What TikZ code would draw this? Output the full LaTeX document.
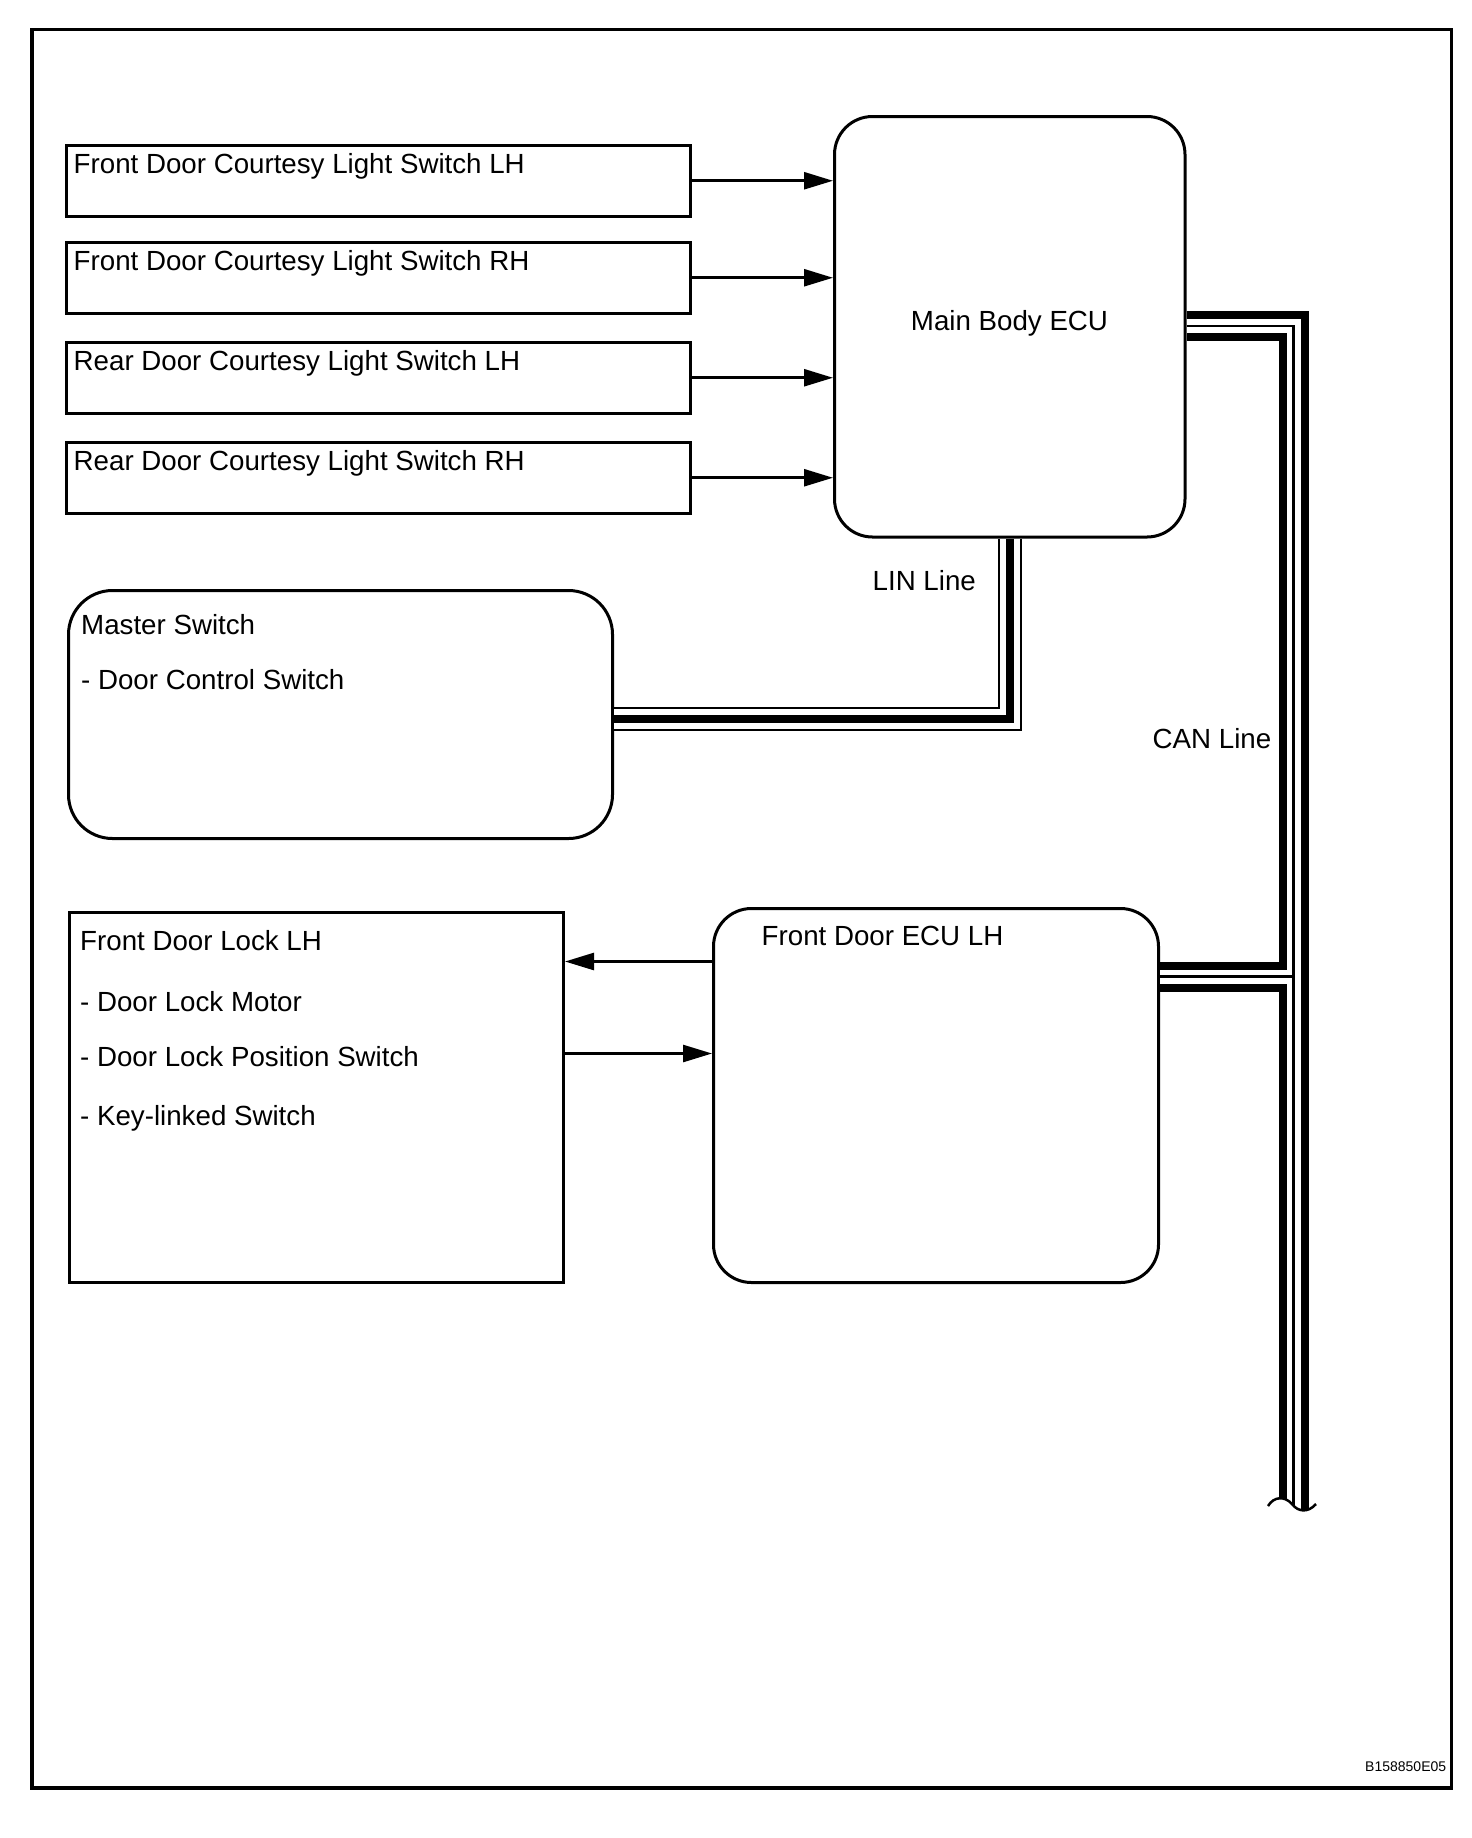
\documentclass[tikz,border=0pt]{standalone}
\usepackage{fontspec}
\setmainfont{Liberation Sans}
\usetikzlibrary{arrows.meta}
\begin{document}
\begin{tikzpicture}[x=1bp,y=-1bp,
  box/.style={draw, line width=3bp, inner sep=0pt, anchor=north west},
  rbox/.style={box, rounded corners=38bp},
  lbl/.style={anchor=base west, inner sep=0pt, font=\fontsize{27.7bp}{33bp}\selectfont},
  arr/.style={line width=2.6bp, -{Triangle[length=29bp,width=17bp]}},
  small/.style={anchor=base west, inner sep=0pt, font=\fontsize{14bp}{16bp}\selectfont}]
\useasboundingbox (0,0) rectangle (1472,1838);
\fill[white] (0,0) rectangle (1472,1838);
% frame
\draw[line width=3.5bp] (32,29.5) rectangle (1451.5,1788);
% switch boxes
\node[box, minimum width=623.5bp, minimum height=71.5bp] (s1) at (65,143.5) {};
\node[box, minimum width=623.5bp, minimum height=71.5bp] (s2) at (65,240.5) {};
\node[box, minimum width=623.5bp, minimum height=71.5bp] (s3) at (65,340.5) {};
\node[box, minimum width=623.5bp, minimum height=71.5bp] (s4) at (65,440.5) {};
\node[lbl] (t1) at (73.5,173.5) {Front Door Courtesy Light Switch LH};
\node[lbl] (t2) at (73.5,270.5) {Front Door Courtesy Light Switch RH};
\node[lbl] (t3) at (73.5,370.5) {Rear Door Courtesy Light Switch LH};
\node[lbl] (t4) at (73.5,470.5) {Rear Door Courtesy Light Switch RH};
% main body ECU
\node[rbox, minimum width=350.5bp, minimum height=420.5bp] (ecu) at (833,115) {};
\node[lbl, anchor=base] (tecu) at (1009.5,330) {Main Body ECU};
% arrows into ECU
\draw[arr] (s1.east) -- (s1.east -| ecu.west);
\draw[arr] (s2.east) -- (s2.east -| ecu.west);
\draw[arr] (s3.east) -- (s3.east -| ecu.west);
\draw[arr] (s4.east) -- (s4.east -| ecu.west);
% master switch
\node[rbox, rounded corners=44bp, minimum width=544bp, minimum height=248bp] (ms) at (67,589) {};
\node[lbl] (tms1) at (81,634) {Master Switch};
\node[lbl] (tms2) at (81,689) {- Door Control Switch};
% LIN line
\coordinate (lin) at (1010,719.2);
\node[lbl] (tlin) at (872.5,590) {LIN Line};
\foreach \w/\c in {24.5/black,19.5/white,8.5/black}
  \draw[line width=\w bp, \c] (lin |- ecu.south) -- (lin) -- (lin -| ms.east);
% front door lock
\node[box, minimum width=494bp, minimum height=370bp] (lock) at (68,911) {};
\node[lbl] (tl1) at (80,950) {Front Door Lock LH};
\node[lbl] (tl2) at (80,1011) {- Door Lock Motor};
\node[lbl] (tl3) at (80,1066) {- Door Lock Position Switch};
\node[lbl] (tl4) at (80,1125) {- Key-linked Switch};
% front door ECU
\node[rbox, minimum width=445bp, minimum height=374bp] (fde) at (712,907) {};
\node[lbl] (tfde) at (761.5,945) {Front Door ECU LH};
\coordinate (a1) at (0,961.5);
\coordinate (a2) at (0,1053.5);
\draw[arr] (fde.west |- a1) -- (lock.east |- a1);
\draw[arr] (lock.east |- a2) -- (fde.west |- a2);
% CAN line
\coordinate (cantop) at (1293.5,326);
\coordinate (canbot) at (1293.5,1515);
\coordinate (canbr) at (1293.5,976.5);
\node[lbl] (tcan) at (1152.5,748) {CAN Line};
\foreach \w/\c in {30/black,14/white,2.6/black}{
  \draw[line width=\w bp, \c] (ecu.east |- cantop) -- (cantop) -- (canbot);
  \draw[line width=\w bp, \c] (fde.east |- canbr) -- (canbr);
}
\fill[white] (1268,1506) .. controls (1274,1496) and (1285,1496) .. (1292,1504)
  .. controls (1298,1512) and (1308,1513) .. (1316,1504) -- (1320,1530) -- (1264,1530) -- cycle;
\draw[line width=2.5bp] (1268,1506) .. controls (1274,1496) and (1285,1496) .. (1292,1504)
  .. controls (1298,1512) and (1308,1513) .. (1316,1504);
% code
\node[small] (code) at (1365,1771) {B158850E05};
\end{tikzpicture}
\end{document}
